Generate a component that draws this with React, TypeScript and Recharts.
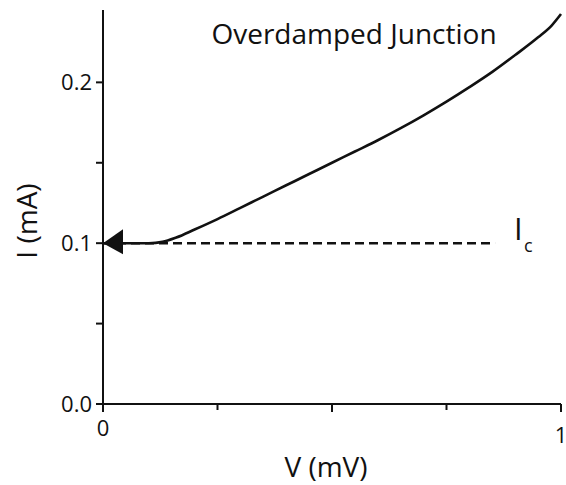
import { ComposedChart, Line, Scatter, XAxis, YAxis, ReferenceLine, Customized } from 'recharts'

// I-V curve of an overdamped junction
const voltage = [0, 0.1, 0.13, 0.16, 0.2, 0.25, 0.3, 0.35, 0.4, 0.45, 0.5, 0.55, 0.6, 0.65, 0.7, 0.75, 0.8, 0.85, 0.9, 0.95, 0.98, 1.0]
const current = [0.1, 0.1, 0.1008, 0.1035, 0.1085, 0.115, 0.122, 0.129, 0.136, 0.143, 0.15, 0.157, 0.164, 0.1715, 0.1795, 0.188, 0.197, 0.2065, 0.217, 0.228, 0.2355, 0.2425]

const criticalCurrent = 0.1
const dashEnd = 0.856

const xTicks = [0, 0.25, 0.5, 0.75, 1]
const xTickLabels: Record<number, string> = { 0: '0', 1: '1' }
const yTicks = [0, 0.05, 0.1, 0.15, 0.2]
const yTickLabels: Record<number, string> = { 0: '0.0', 0.1: '0.1', 0.2: '0.2' }

const curveData = voltage.map((v, i) => ({ v, i: current[i] }))
const arrowData = [{ v: 0, i: criticalCurrent }]

const FONT = '"Open Sans", "Noto Sans", sans-serif'

if (typeof document !== 'undefined') document.body.style.margin = '0'

const XTick = (props: any) => {
  const { x, y, payload } = props
  const label = xTickLabels[payload.value]
  const major = payload.value === 0 || payload.value === 0.5 || payload.value === 1
  return (
    <g>
      <line x1={x} y1={y} x2={x} y2={y + (major ? 8 : 6)} stroke="#111" strokeWidth={2} />
      {label && (
        <text x={x} y={y + (payload.value === 1 ? 39 : 32)} textAnchor="middle" fontSize={22} fontFamily={FONT} fill="#111">
          {label}
        </text>
      )}
    </g>
  )
}

const YTick = (props: any) => {
  const { x, y, payload } = props
  const label = yTickLabels[payload.value]
  return (
    <g>
      <line x1={x - 7} y1={y} x2={x} y2={y} stroke="#111" strokeWidth={2} />
      {label && (
        <text x={x - 11} y={y + 8} textAnchor="end" fontSize={22} fontFamily={FONT} fill="#111">
          {label}
        </text>
      )}
    </g>
  )
}

const Arrow = (props: any) => {
  const { cx, cy } = props
  return <path d={`M${cx},${cy} L${cx + 20},${cy - 14} L${cx + 20},${cy + 11} Z`} fill="#111" />
}

const Labels = () => (
  <g fontFamily={FONT} fill="#111">
    <text x={354} y={44} textAnchor="middle" fontSize={28}>Overdamped Junction</text>
    <text x={326} y={477} textAnchor="middle" fontSize={28}>V (mV)</text>
    <text x={37} y={221} textAnchor="middle" fontSize={28} transform="rotate(-90 37 221)">I (mA)</text>
    <text x={514} y={240} fontSize={31}>I</text>
    <text x={524} y={252} fontSize={18}>c</text>
  </g>
)

export default function App() {
  return (
    <ComposedChart width={566} height={485} margin={{ top: 10, right: 5, left: 102, bottom: 80 }}>
      <XAxis
        type="number"
        dataKey="v"
        domain={[0, 1]}
        ticks={xTicks}
        height={1}
        tickSize={0}
        tickMargin={0}
        tickLine={false}
        tick={XTick}
        axisLine={{ stroke: '#111', strokeWidth: 2 }}
      />
      <YAxis
        type="number"
        dataKey="i"
        domain={[0, 0.245]}
        ticks={yTicks}
        width={1}
        tickSize={0}
        tickMargin={0}
        tickLine={false}
        tick={YTick}
        axisLine={{ stroke: '#111', strokeWidth: 2 }}
      />
      <ReferenceLine
        segment={[{ x: 0, y: criticalCurrent }, { x: dashEnd, y: criticalCurrent }]}
        stroke="#111"
        strokeWidth={2.6}
        strokeDasharray="9 5"
      />
      <Line
        data={curveData}
        dataKey="i"
        type="monotone"
        stroke="#111"
        strokeWidth={2.6}
        dot={false}
        activeDot={false}
        isAnimationActive={false}
      />
      <Scatter data={arrowData} dataKey="i" shape={Arrow} isAnimationActive={false} />
      <Customized component={Labels} />
    </ComposedChart>
  )
}
